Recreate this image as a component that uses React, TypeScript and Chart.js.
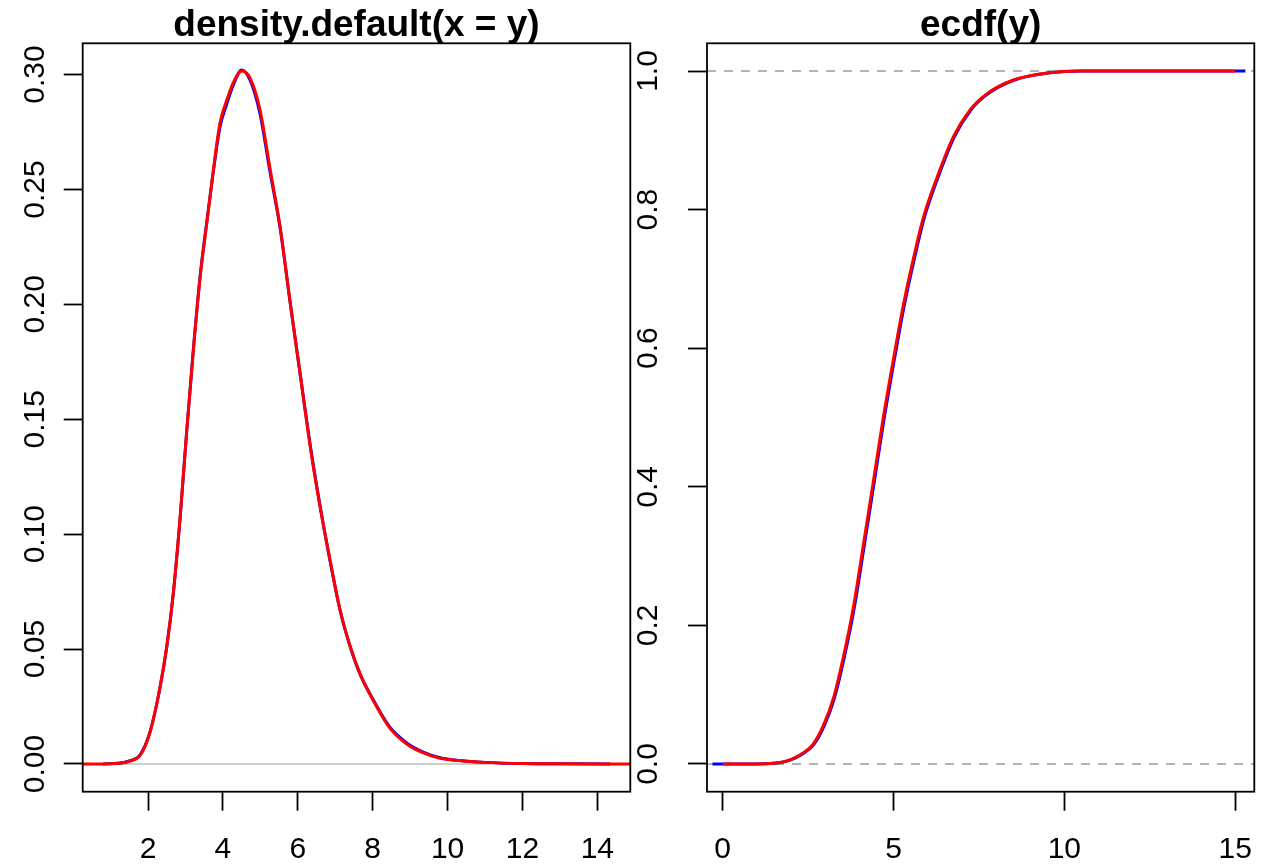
import React, { useEffect, useRef } from "react";
import { Chart, registerables } from "chart.js";
Chart.register(...registerables);

// ---------- Left panel: density.default(x = y) ----------
const DENS_TITLE = "density.default(x = y)";
const DENS_XTICKS = [2, 4, 6, 8, 10, 12, 14];
const DENS_YTICKS = [0, 0.05, 0.1, 0.15, 0.2, 0.25, 0.3];
const DENS_XLIM = [0.256, 14.88];
const DENS_YLIM = [-0.01206, 0.3136];

const DENS_RED_X = [0.256, 0.8, 1.2, 1.5, 1.786, 2.05, 2.32, 2.5, 2.68, 2.86, 3.03, 3.21, 3.39, 3.57, 3.75, 3.92, 4.1, 4.28, 4.5, 4.72, 4.99, 5.26, 5.53, 5.79, 6.06, 6.33, 6.59, 6.86, 7.13, 7.4, 7.66, 8.02, 8.46, 8.91, 9.35, 9.8, 10.3, 11.0, 12.0, 13.0, 14.88];
const DENS_RED_Y = [0, 0, 0.0003, 0.0012, 0.0037, 0.0136, 0.0334, 0.0511, 0.075, 0.1078, 0.1442, 0.1799, 0.2115, 0.2353, 0.259, 0.2788, 0.2887, 0.2966, 0.3015, 0.2986, 0.2848, 0.259, 0.2335, 0.2017, 0.1701, 0.1383, 0.1124, 0.0889, 0.067, 0.0511, 0.0393, 0.0275, 0.0156, 0.0087, 0.0048, 0.0025, 0.0015, 0.0007, 0.0002, 0.0001, 0];

const DENS_BLUE_X = [0.8, 1.2, 1.5, 1.786, 2.05, 2.32, 2.5, 2.68, 2.86, 3.03, 3.21, 3.39, 3.57, 3.75, 3.92, 4.1, 4.28, 4.5, 4.72, 4.99, 5.26, 5.53, 5.79, 6.06, 6.33, 6.59, 6.86, 7.13, 7.4, 7.66, 8.02, 8.46, 8.91, 9.35, 9.8, 10.3, 11.0, 12.0, 13.0, 14.34];
const DENS_BLUE_Y = [0, 0.0003, 0.0013, 0.0039, 0.0138, 0.0332, 0.0508, 0.0748, 0.1075, 0.144, 0.1802, 0.212, 0.236, 0.2585, 0.277, 0.287, 0.2955, 0.302, 0.2978, 0.283, 0.2575, 0.233, 0.2015, 0.17, 0.139, 0.1128, 0.0885, 0.0668, 0.051, 0.0392, 0.0278, 0.016, 0.0092, 0.0052, 0.0027, 0.0015, 0.0007, 0.0002, 0.0001, 0];

// ---------- Right panel: ecdf(y) ----------
const ECDF_TITLE = "ecdf(y)";
const ECDF_XTICKS = [0, 5, 10, 15];
const ECDF_YTICKS = [0, 0.2, 0.4, 0.6, 0.8, 1.0];
const ECDF_XLIM = [-0.46, 15.56];
const ECDF_YLIM = [-0.04, 1.04];
const ECDF_HLINES = [0, 1];

const ECDF_RED_X = [0, 1.0, 1.68, 2.26, 2.65, 2.95, 3.24, 3.53, 3.82, 4.12, 4.41, 4.7, 5.0, 5.29, 5.58, 5.87, 6.27, 6.75, 7.24, 7.73, 8.51, 9.49, 10.46, 12.0, 15.0];
const ECDF_RED_Y = [0, 0, 0.002, 0.013, 0.029, 0.056, 0.095, 0.154, 0.225, 0.317, 0.408, 0.5, 0.585, 0.663, 0.729, 0.788, 0.846, 0.905, 0.944, 0.967, 0.987, 0.997, 1.0, 1.0, 1.0];

const ECDF_BLUE_X = [-0.3, 1.0, 1.7, 2.29, 2.68, 2.98, 3.27, 3.56, 3.85, 4.15, 4.44, 4.73, 5.03, 5.32, 5.61, 5.9, 6.3, 6.78, 7.27, 7.76, 8.54, 9.52, 10.5, 12.0, 15.3];
const ECDF_BLUE_Y = [0, 0, 0.002, 0.013, 0.029, 0.056, 0.095, 0.154, 0.225, 0.317, 0.408, 0.5, 0.585, 0.663, 0.729, 0.788, 0.846, 0.905, 0.944, 0.967, 0.987, 0.997, 1.0, 1.0, 1.0];

const FONT_FAMILY = '"Liberation Sans", Arial, Helvetica, sans-serif';
const RED = "#FF0000";
const BLUE = "#0000FF";

const pts = (xs: number[], ys: number[]) => xs.map((x, i) => ({ x, y: ys[i] }));

function framePlugin(title: string) {
  return {
    id: "rframe",
    afterDraw(chart: any) {
      const { ctx, chartArea } = chart;
      ctx.save();
      ctx.strokeStyle = "#000";
      ctx.lineWidth = 1.8;
      ctx.strokeRect(chartArea.left, chartArea.top, chartArea.right - chartArea.left, chartArea.bottom - chartArea.top);
      ctx.fillStyle = "#000";
      ctx.font = `bold 37px ${FONT_FAMILY}`;
      ctx.textAlign = "center";
      ctx.textBaseline = "alphabetic";
      ctx.fillText(title, (chartArea.left + chartArea.right) / 2, 36);
      ctx.restore();
    },
  };
}

function axisCommon(ticksArr: number[], fmt: (v: number) => string) {
  return {
    type: "linear",
    afterBuildTicks: (s: any) => {
      s.ticks = ticksArr.map((v) => ({ value: v }));
    },
    grid: {
      display: true,
      drawOnChartArea: false,
      drawTicks: true,
      tickLength: 19,
      tickColor: "#000",
      tickWidth: 1.8,
    },
    border: { display: false },
    ticks: {
      color: "#000",
      font: { family: FONT_FAMILY, size: 30 },
      callback: (v: any) => fmt(Number(v)),
    },
  };
}

function buildConfig(opts: {
  title: string;
  datasets: any[];
  xlim: number[];
  ylim: number[];
  xticks: number[];
  yticks: number[];
  xfmt: (v: number) => string;
  yfmt: (v: number) => string;
  yAxisWidth: number;
  ylabelPad: number;
  rightPad: number;
}) {
  const xAxis: any = axisCommon(opts.xticks, opts.xfmt);
  xAxis.min = opts.xlim[0];
  xAxis.max = opts.xlim[1];
  xAxis.afterFit = (s: any) => {
    s.height = 75.3;
    s.paddingLeft = 0;
    s.paddingRight = 0;
  };
  xAxis.ticks.padding = 21;
  xAxis.ticks.maxRotation = 0;
  xAxis.ticks.minRotation = 0;
  xAxis.ticks.autoSkip = false;

  const yAxis: any = axisCommon(opts.yticks, opts.yfmt);
  yAxis.min = opts.ylim[0];
  yAxis.max = opts.ylim[1];
  yAxis.afterFit = (s: any) => {
    s.width = opts.yAxisWidth;
    s.paddingTop = 0;
    s.paddingBottom = 0;
  };
  yAxis.ticks.minRotation = 90;
  yAxis.ticks.maxRotation = 90;
  yAxis.ticks.crossAlign = "center";
  yAxis.ticks.padding = opts.ylabelPad;
  yAxis.ticks.autoSkip = false;

  return {
    type: "line",
    data: { datasets: opts.datasets },
    options: {
      responsive: false,
      animation: false,
      devicePixelRatio: 1,
      layout: { padding: { left: 0, right: opts.rightPad, top: 43.3, bottom: 0 } },
      plugins: { legend: { display: false }, tooltip: { enabled: false }, title: { display: false } },
      elements: { point: { radius: 0 } },
      scales: { x: xAxis, y: yAxis },
    },
    plugins: [framePlugin(opts.title)],
  } as any;
}

function ChartCanvas({ make, left, width }: { make: () => any; left: number; width: number }) {
  const ref = useRef<HTMLCanvasElement>(null);
  useEffect(() => {
    const chart = new Chart(ref.current as HTMLCanvasElement, make());
    return () => chart.destroy();
  }, []);
  return (
    <canvas
      ref={ref}
      width={width}
      height={867}
      style={{ position: "absolute", left, top: 0, width, height: 867 }}
    />
  );
}

// lower `order` is drawn on top
const lineDs = (data: any[], color: string, width: number, order: number, extra: any = {}) => ({
  data,
  borderColor: color,
  borderWidth: width,
  pointRadius: 0,
  fill: false,
  order,
  cubicInterpolationMode: "monotone",
  ...extra,
});

function makeLeft() {
  return buildConfig({
    title: DENS_TITLE,
    datasets: [
      lineDs(pts(DENS_XLIM, [0, 0]), "#BEBEBE", 1.5, 3, { cubicInterpolationMode: "default", tension: 0 }),
      lineDs(pts(DENS_BLUE_X, DENS_BLUE_Y), BLUE, 3, 2),
      lineDs(pts(DENS_RED_X, DENS_RED_Y), RED, 3, 1),
    ],
    xlim: DENS_XLIM,
    ylim: DENS_YLIM,
    xticks: DENS_XTICKS,
    yticks: DENS_YTICKS,
    xfmt: (v) => String(v),
    yfmt: (v) => v.toFixed(2),
    yAxisWidth: 82.7,
    ylabelPad: -1.5,
    rightPad: 29.7,
  });
}

function makeRight() {
  const hl = ECDF_HLINES.map((h) =>
    lineDs(pts(ECDF_XLIM, [h, h]), "#B3B3B3", 2, 3, { borderDash: [9, 8], cubicInterpolationMode: "default", tension: 0 })
  );
  return buildConfig({
    title: ECDF_TITLE,
    datasets: [
      ...hl,
      lineDs(pts(ECDF_BLUE_X, ECDF_BLUE_Y), BLUE, 3, 2),
      lineDs(pts(ECDF_RED_X, ECDF_RED_Y), RED, 3, 1),
    ],
    xlim: ECDF_XLIM,
    ylim: ECDF_YLIM,
    xticks: ECDF_XTICKS,
    yticks: ECDF_YTICKS,
    xfmt: (v) => String(v),
    yfmt: (v) => v.toFixed(1),
    yAxisWidth: 107,
    ylabelPad: 18.2,
    rightPad: 6.7,
  });
}

export default function App() {
  return (
    <div style={{ position: "absolute", left: 0, top: 0, width: 1261, height: 867, background: "#fff" }}>
      <ChartCanvas make={makeLeft} left={0} width={660} />
      <ChartCanvas make={makeRight} left={600} width={661} />
    </div>
  );
}
